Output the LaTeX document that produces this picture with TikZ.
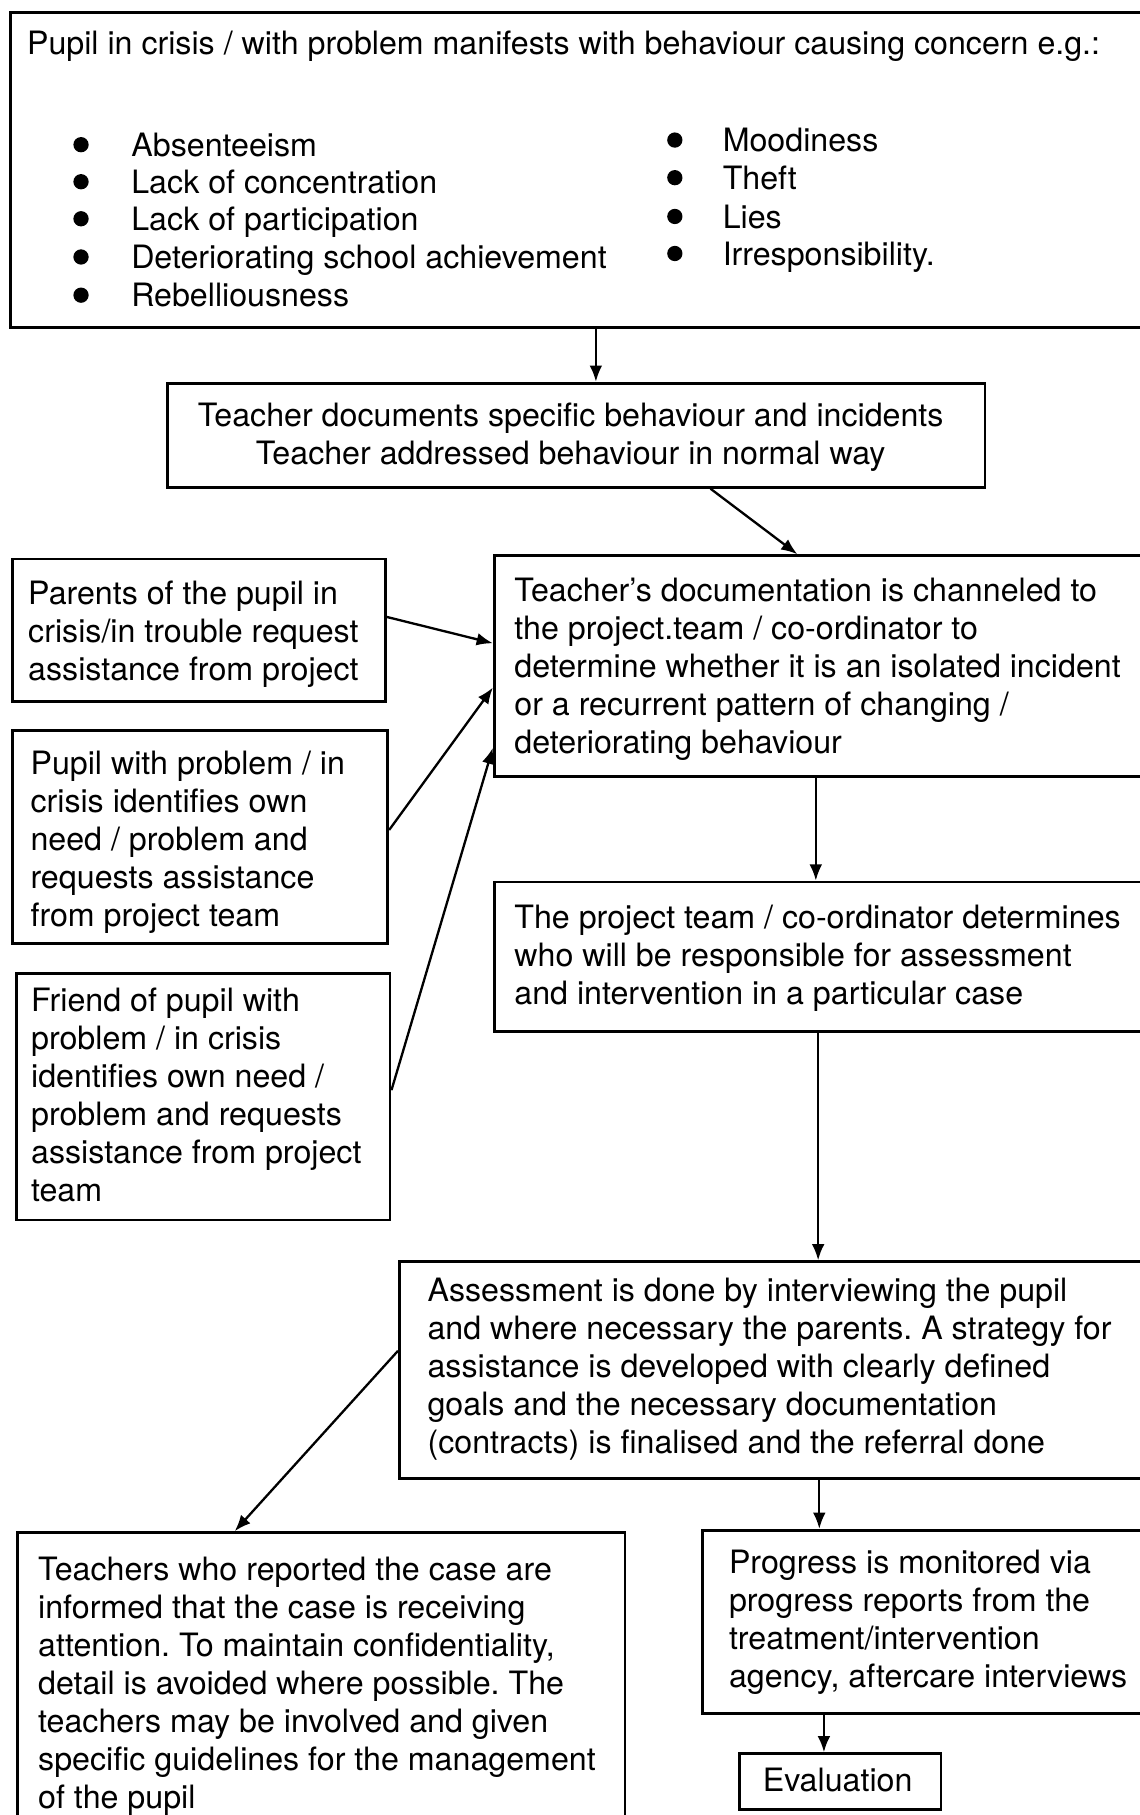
\documentclass[tikz,border=0pt]{standalone}
\usepackage{fontspec}
\setmainfont{TeX Gyre Heros}
\usetikzlibrary{arrows.meta}
\frenchspacing
\begin{document}
\begin{tikzpicture}[x=0.5pt,y=-0.5pt,
  box/.style={draw, line width=1.2pt, inner sep=0pt},
  txt/.style={font=\fontsize{13.9pt}{16.4pt}\selectfont, inner sep=0pt, align=left},
  arr/.style={line width=1pt, -{Latex[length=7pt,width=5.5pt]}},
  dot/.style={fill=black}]
\useasboundingbox (0,0) rectangle (984,1568);
% boxes
\node[box, minimum width=495.5pt, minimum height=136pt] (top) at (504.5,147) {};
\node[box, minimum width=353pt, minimum height=45pt] (b2) at (498,376) {};
\node[box, minimum width=286.5pt, minimum height=95.5pt] (b3) at (713.5,575.5) {};
\node[box, minimum width=161pt, minimum height=61.5pt] (P) at (172,544.5) {};
\node[box, minimum width=162pt, minimum height=92pt] (Q) at (173,723) {};
\node[box, minimum width=161.5pt, minimum height=106.5pt] (F) at (175.5,947.5) {};
\node[box, minimum width=286.5pt, minimum height=64.5pt] (b4) at (713.5,826.5) {};
\node[box, minimum width=327.5pt, minimum height=93.5pt] (b5) at (672.5,1183.5) {};
\node[box, minimum width=262.5pt, minimum height=138pt] (b6) at (277.5,1462) {};
\node[box, minimum width=196.5pt, minimum height=79pt] (b7) at (803.5,1401) {};
\node[box, minimum width=87pt, minimum height=24pt] (ev) at (726,1539) {};
% top box text
\node[txt, anchor=base west] (title) at (23,47.5) {Pupil in crisis / with problem manifests with behaviour causing concern e.g.:};
\foreach \y/\t [count=\i] in {125/Absenteeism, 157/Lack of concentration, 189/Lack of participation, 222/Deteriorating school achievement, 255/Rebelliousness}{
  \fill[dot] (70,\y) circle[radius=3.3pt];
  \node[txt, anchor=base west] (L\i) at (113,\y+10) {\t};
}
\foreach \y/\t [count=\i] in {121/Moodiness, 153.5/Theft, 187/Lies, 219/Irresponsibility.}{
  \fill[dot] (583,\y) circle[radius=3.3pt];
  \node[txt, anchor=base west] (R\i) at (624,\y+10) {\t};
}
% other texts
\node[txt, align=center, anchor=north] (t2) at (493,348) {Teacher documents specific behaviour and incidents\\Teacher addressed behaviour in normal way};
\node[txt, anchor=north west] (t3) at (444,499) {Teacher's documentation is channeled to\\the project.team / co-ordinator to\\determine whether it is an isolated incident\\or a recurrent pattern of changing /\\deteriorating behaviour};
\node[txt, anchor=north west] (tP) at (24,501.5) {Parents of the pupil in\\crisis/in trouble request\\assistance from project};
\node[txt, anchor=north west] (tQ) at (26,648.5) {Pupil with problem / in\\crisis identifies own\\need / problem and\\requests assistance\\from project team};
\node[txt, anchor=north west] (tF) at (26.5,853.5) {Friend of pupil with\\problem / in crisis\\identifies own need /\\problem and requests\\assistance from project\\team};
\node[txt, anchor=north west] (t4) at (444,781.5) {The project team / co-ordinator determines\\who will be responsible for assessment\\and intervention in a particular case};
\node[txt, anchor=north west] (t5) at (369,1103.5) {Assessment is done by interviewing the pupil\\and where necessary the parents. A strategy for\\assistance is developed with clearly defined\\goals and the necessary documentation\\(contracts) is finalised and the referral done};
\node[txt, anchor=north west] (t6) at (32.6,1345) {Teachers who reported the case are\\informed that the case is receiving\\attention. To maintain confidentiality,\\detail is avoided where possible. The\\teachers may be involved and given\\specific guidelines for the management\\of the pupil};
\node[txt, anchor=north west] (t7) at (629.4,1339) {Progress is monitored via\\progress reports from the\\treatment/intervention\\agency, aftercare interviews};
\node[txt] (tev) at (723.6,1538) {Evaluation};
% connectors
\draw[arr] ([xshift=253.5pt]top.south west) -- ([xshift=185.5pt]b2.north west);
\draw[arr] ([xshift=235pt]b2.south west) -- ([xshift=131.5pt]b3.north west);
\draw[arr] ([yshift=5.75pt]P.east) -- ([yshift=9.9pt]b3.west);
\draw[arr] ([yshift=3pt]Q.east) -- ([yshift=-9.25pt]b3.west);
\draw[arr] ([yshift=2.85pt]F.east) -- ([yshift=-35.25pt]b3.west);
\draw[arr] ([xshift=139.5pt]b3.south west) -- ([xshift=139.5pt]b4.north west);
\draw[arr] ([xshift=140.5pt]b4.south west) -- ([xshift=181.5pt]b5.north west);
\draw[arr] ([yshift=8.25pt]b5.west) -- ([xshift=94.5pt]b6.north west);
\draw[arr] ([xshift=182pt]b5.south west) -- ([xshift=51pt]b7.north west);
\draw[arr] ([xshift=53pt]b7.south west) -- ([xshift=37pt]ev.north west);
\end{tikzpicture}
\end{document}
